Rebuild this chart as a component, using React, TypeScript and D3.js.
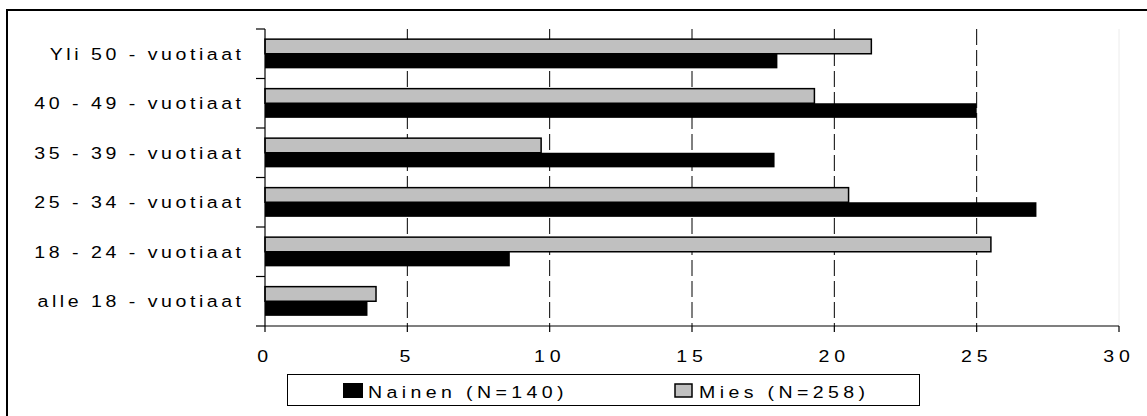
import React from "react";
import * as d3 from "d3";

const categories = [
  "Yli 50 - vuotiaat",
  "40 - 49 - vuotiaat",
  "35 - 39 - vuotiaat",
  "25 - 34 - vuotiaat",
  "18 - 24 - vuotiaat",
  "alle 18 - vuotiaat",
];
const nainen = [18.0, 25.0, 17.9, 27.1, 8.6, 3.6];
const mies = [21.3, 19.3, 9.7, 20.5, 25.5, 3.9];
const xTicks = [0, 5, 10, 15, 20, 25, 30];
const seriesNames = ["Nainen (N=140)", "Mies (N=258)"];

const W = 1147;
const H = 416;
const FONT = "'Liberation Sans', Arial, Helvetica, sans-serif";
const FS = 17;
const SX = 1.15;
const LS = 3.08;

function SText({ x, y, anchor, children, ls = LS, comp = true }: any) {
  const dx = !comp ? 0 : anchor === "middle" ? ls / 2 : anchor === "end" ? ls : 0;
  return (
    <g transform={`translate(${x},${y}) scale(${SX},1)`}>
      <text
        x={dx}
        y={0}
        textAnchor={anchor}
        fontFamily={FONT}
        fontSize={FS}
        letterSpacing={ls}
        fill="#000"
      >
        {children}
      </text>
    </g>
  );
}

export default function App() {
  const x = d3.scaleLinear().domain([0, 30]).range([265, 1119]);
  const y = d3.scaleBand().domain(categories).range([29, 326]).paddingInner(0).paddingOuter(0);
  const bw = y.bandwidth();
  const pad = bw * 0.205;
  const barH = (bw - 2 * pad) / 2;

  const boundaries = d3.range(categories.length + 1).map((i) => 29 + i * bw);

  return (
    <svg width={W} height={H} style={{ position: "absolute", left: 0, top: 0, background: "#fff" }}>
      <rect x={0} y={0} width={W} height={H} fill="#fff" />
      {/* outer border */}
      <path d={`M7,${H + 10} V10 H${W + 10}`} fill="none" stroke="#000" strokeWidth={2} />

      {/* gridlines */}
      {xTicks.slice(1).map((t) => (
        <line
          key={"g" + t}
          x1={x(t)}
          x2={x(t)}
          y1={29}
          y2={326}
          stroke={t === 30 ? "#ececec" : "#000"}
          strokeWidth={1}
          strokeDasharray={t === 30 ? undefined : "16 5"}
        />
      ))}

      {/* bars */}
      {categories.map((c, i) => {
        const y0 = (y(c) as number) + pad;
        return (
          <g key={c}>
            <rect
              x={x(0)}
              y={y0}
              width={x(mies[i]) - x(0)}
              height={barH}
              fill="#c0c0c0"
              stroke="#000"
              strokeWidth={1.5}
            />
            <rect
              x={x(0)}
              y={y0 + barH}
              width={x(nainen[i]) - x(0)}
              height={barH}
              fill="#000"
            />
          </g>
        );
      })}

      {/* y axis */}
      <line x1={265} x2={265} y1={29} y2={326} stroke="#000" strokeWidth={1.2} />
      {boundaries.map((b, i) => (
        <line key={"yt" + i} x1={256} x2={265} y1={b} y2={b} stroke="#000" strokeWidth={1.2} />
      ))}
      {/* x axis */}
      <line x1={265} x2={x(30)} y1={326} y2={326} stroke="#000" strokeWidth={1.2} />
      {xTicks.map((t) => (
        <line key={"xt" + t} x1={x(t)} x2={x(t)} y1={326} y2={332} stroke="#000" strokeWidth={1.2} />
      ))}

      {/* category labels */}
      {categories.map((c) => (
        <SText key={"l" + c} x={241} y={(y(c) as number) + bw / 2 + 6} anchor="end">
          {c}
        </SText>
      ))}

      {/* x tick labels */}
      {xTicks.map((t) => (
        <SText key={"xl" + t} x={x(t)} y={362} anchor="middle" ls={4.24} comp={false}>
          {String(t)}
        </SText>
      ))}

      {/* legend */}
      <rect x={287.5} y={374.5} width={632} height={31} fill="#fff" stroke="#000" strokeWidth={1} />
      <rect x={343} y={383} width={20} height={15} fill="#000" />
      <SText x={368} y={398} anchor="start" ls={3.82}>
        {seriesNames[0]}
      </SText>
      <rect x={675} y={384} width={17} height={13} fill="#c0c0c0" stroke="#000" strokeWidth={1.5} />
      <SText x={699} y={398} anchor="start" ls={3.82}>
        {seriesNames[1]}
      </SText>
    </svg>
  );
}
